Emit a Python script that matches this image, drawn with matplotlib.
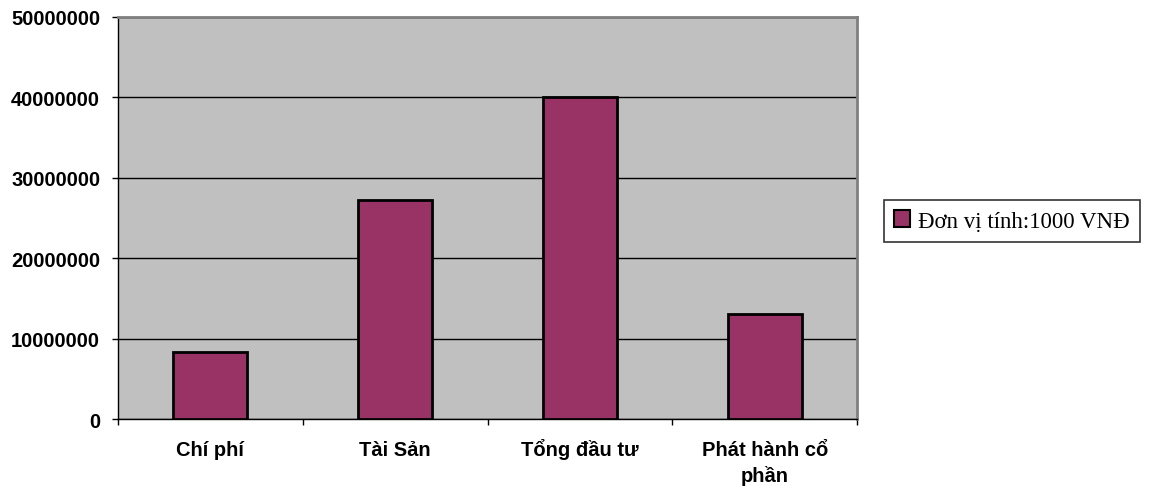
import matplotlib
matplotlib.use("Agg")
import matplotlib.pyplot as plt
from matplotlib.patches import Patch
import numpy as np

categories = ["Chí phí", "Tài Sản", "Tổng đầu tư", "Phát hành cổ\nphần"]
values = [8300000, 27200000, 40000000, 13100000]
yticks = [0, 10000000, 20000000, 30000000, 40000000, 50000000]
series_name = "Đơn vị tính:1000 VNĐ"

fig = plt.figure(figsize=(11.49, 4.89), dpi=100)
ax = fig.add_axes([118/1149, 1-420/489, (857-118)/1149, (420-18)/489])
ax.set_facecolor("#C0C0C0")

x = np.arange(len(categories))
ax.bar(x, values, width=0.4, color="#993366", edgecolor="black", linewidth=2, zorder=3)

ax.set_ylim(0, 50000000)
ax.set_xlim(-0.5, len(categories) - 0.5)
ax.set_yticks(yticks)
ax.set_yticklabels([str(v) for v in yticks], fontfamily="Liberation Sans",
                   fontweight="bold", fontsize=14.5)
ax.yaxis.grid(True, color="black", linewidth=1, zorder=1)
ax.set_axisbelow(True)

# category labels: baselines aligned (first line of each label on the same baseline)
ax.set_xticks(x)
ax.set_xticklabels([""] * len(categories))
px = 72 / 100
for xi, cat in zip(x, categories):
    for i, line in enumerate(cat.split("\n")):
        ax.annotate(line, xy=(xi, 0), xycoords=("data", "axes fraction"),
                    xytext=(0, -(36 + 26 * i) * px), textcoords="offset points",
                    ha="center", va="baseline", fontfamily="Liberation Sans",
                    fontweight="bold", fontsize=14.5, annotation_clip=False)

ax.set_xticks(np.arange(-0.5, len(categories)), minor=True)
ax.tick_params(axis="x", which="major", length=0)
ax.tick_params(axis="x", which="minor", length=4.3, width=1, direction="out")
ax.tick_params(axis="y", length=4.3, width=1, direction="out", pad=8.5)

for s in ["left", "bottom"]:
    ax.spines[s].set_color("black")
    ax.spines[s].set_linewidth(1)
for s in ["top", "right"]:
    ax.spines[s].set_color("#808080")
    ax.spines[s].set_linewidth(2)

handle = Patch(facecolor="#993366", edgecolor="black", linewidth=1.5)
leg = fig.legend([handle], [series_name], loc="center left",
                 bbox_to_anchor=(884/1149, 1-222/489),
                 prop={"family": "Liberation Serif", "size": 16.5},
                 frameon=True, fancybox=False, edgecolor="black",
                 handlelength=0.7, handleheight=0.7, handletextpad=0.35,
                 borderpad=0.45, borderaxespad=0)
leg.get_frame().set_linewidth(1.2)

fig.savefig("out.png", dpi=100)
